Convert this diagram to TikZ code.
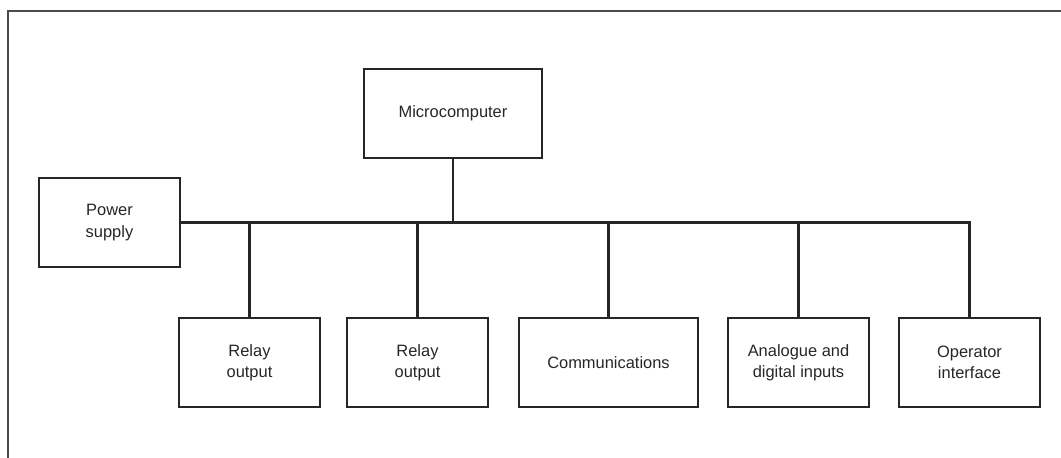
\documentclass[tikz,border=0pt]{standalone}
\usepackage{fontspec}
\setmainfont{Liberation Sans}
\definecolor{framegray}{HTML}{4A4A4A}
\definecolor{inkgray}{HTML}{262626}
\tikzset{
  unit/.style={draw=inkgray,line width=1.3bp,minimum height=89bp,minimum width=141bp,
    align=center,inner sep=0pt,text=inkgray,font=\fontsize{16.5}{21.5}\selectfont},
  bus/.style={draw=inkgray,line width=3bp},
  stem/.style={draw=inkgray,line width=1.3bp}
}
\begin{document}
\begin{tikzpicture}[x=1bp,y=-1bp]
    \useasboundingbox (0,0) rectangle (1061,458);
    \draw[framegray,line width=2bp] (7.5,458) -- (7.5,11.5) -- (1061,11.5);
    \node[unit,minimum width=178bp] (micro) at (453,113.5) {Microcomputer};
    \node[unit] (power) at (109.5,222.5) {Power\\supply};
    \node[unit] (relayA) at (249.5,362.5) {Relay\\output};
    \node[unit] (relayB) at (417.5,362.5) {Relay\\output};
    \node[unit,minimum width=179bp] (comms) at (608.5,362.5) {Communications};
    \node[unit] (inputs) at (798.5,362.5) {Analogue and\\digital inputs};
    \node[unit] (operator) at (969.5,362.5) {Operator\\interface};
    \draw[bus] (power.east) -| (operator.north);
    \foreach \n in {relayA,relayB,comms,inputs}
      \draw[bus] (\n.north) -- (\n.north |- power.east);
    \draw[stem] (micro.south) -- (micro.south |- power.east);
  \end{tikzpicture}
\end{document}
